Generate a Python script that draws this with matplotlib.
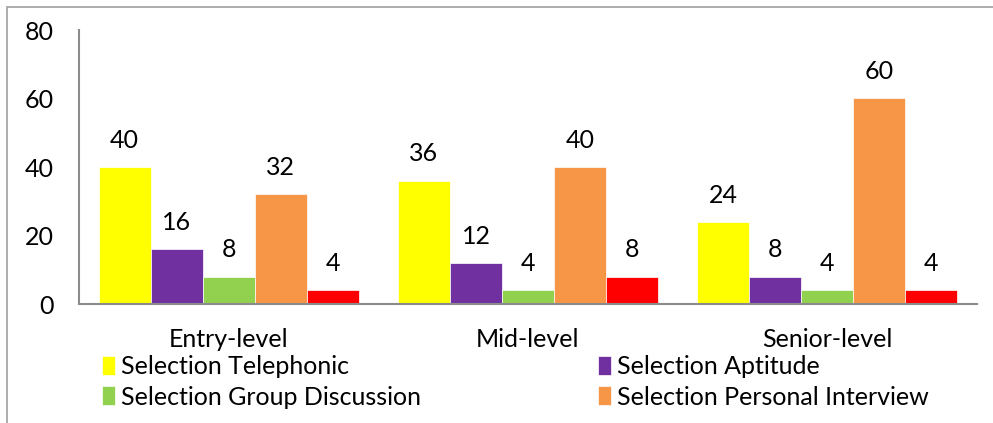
import matplotlib.pyplot as plt
import numpy as np
from matplotlib.patches import Rectangle

plt.rcParams['font.family'] = ['Lato', 'DejaVu Sans']

categories = ["Entry-level", "Mid-level", "Senior-level"]
series_names = ["Selection Telephonic", "Selection Aptitude", "Selection Group Discussion",
                "Selection Personal Interview", "Selection Other"]
telephonic = [40, 36, 24]
aptitude = [16, 12, 8]
group_disc = [8, 4, 4]
interview = [32, 40, 60]
other = [4, 8, 4]
colors = ["#FFFF00", "#7030A0", "#92D050", "#F79646", "#FF0000"]

values = [telephonic, aptitude, group_disc, interview, other]

fig = plt.figure(figsize=(9.93, 4.23), dpi=100)
ax = fig.add_axes([79 / 993, 1 - 304 / 423, 898 / 993, 274 / 423])

x = np.arange(len(categories))
w = 0.1737
bars = []
for i, vals in enumerate(values):
    pos = x + (i - 2) * w
    b = ax.bar(pos, vals, w, color=colors[i], edgecolor="white", linewidth=0.5,
               label=series_names[i])
    bars.append(b)
    for px, v in zip(pos, vals):
        ax.annotate(str(v), (px, v), xytext=(0, 11), textcoords="offset points",
                    ha="center", va="bottom", fontsize=18)

ax.set_xlim(-0.5, 2.5)
ax.set_ylim(0, 80)
ax.set_yticks([0, 20, 40, 60, 80])
ax.set_xticks(x)
ax.set_xticklabels(categories)
ax.tick_params(axis="y", length=0, pad=18, labelsize=18)
ax.tick_params(axis="x", length=0, pad=17, labelsize=18)
for s in ["top", "right"]:
    ax.spines[s].set_visible(False)
for s in ["left", "bottom"]:
    ax.spines[s].set_color("#8c8c8c")
    ax.spines[s].set_linewidth(1.5)

# chart border (only top and left visible in the crop)
fig.patches.append(Rectangle((7 / 993, -0.1), 1.2, 1.1 - 7 / 423, transform=fig.transFigure,
                             fill=False, edgecolor="#a0a0a0", linewidth=1.2))

leg_kw = dict(frameon=False, fontsize=18, handlelength=0.5, handleheight=0.8,
              handletextpad=0.25, labelspacing=0.3, borderpad=0, borderaxespad=0)
l1 = fig.legend([bars[0], bars[2]], [series_names[0], series_names[2]],
                loc="upper left", bbox_to_anchor=(102 / 993, 1 - 355 / 423), **leg_kw)
l2 = fig.legend([bars[1], bars[3]], [series_names[1], series_names[3]],
                loc="upper left", bbox_to_anchor=(598 / 993, 1 - 355 / 423), **leg_kw)

fig.savefig("out.png", dpi=100)
